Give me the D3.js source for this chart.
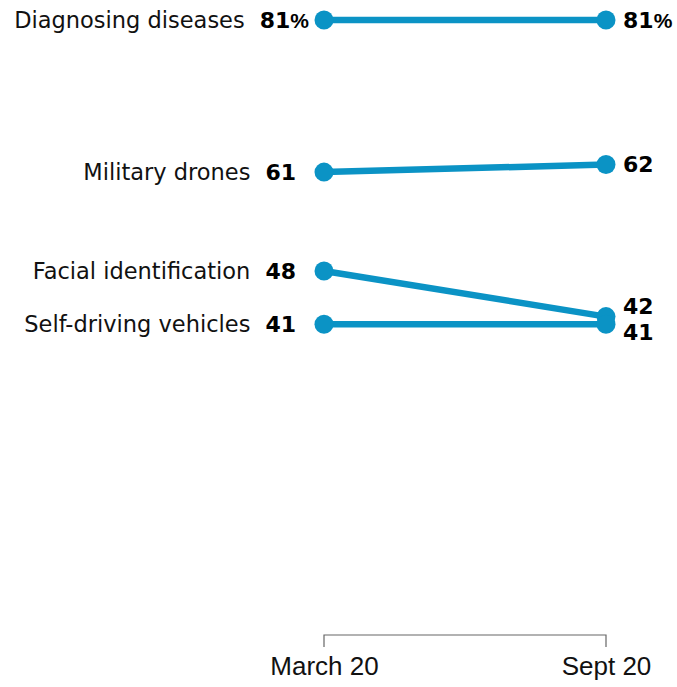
<!DOCTYPE html>
<html>
  <head>
    <meta charset="UTF-8" />
    <style>
      body { margin: 0; background: #fff; }
      .label { font-family: "DejaVu Sans", sans-serif; font-size: 22.5px; fill: #111; }
      .value { font-family: "DejaVu Sans", sans-serif; font-size: 22px; font-weight: bold; fill: #000; }
      .pct { font-family: "Liberation Sans", Arial, sans-serif; font-size: 21px; }
      .tick text { font-family: "Liberation Sans", Arial, sans-serif; font-size: 26px; fill: #111; }
    </style>
  </head>
  <body>
    <svg></svg>
    <script src="https://d3js.org/d3.v7.min.js"></script>
    <script>
      let width = 677,
        height = 687;

      // data
      let periods = ["March 20", "Sept 20"];
      let categories = ["Diagnosing diseases", "Military drones", "Facial identification", "Self-driving vehicles"];
      let march = [81, 61, 48, 41];
      let sept = [81, 62, 42, 41];

      let color = "#0b93c5";

      let svg = d3.select("svg").attr("width", width).attr("height", height);

      let x = d3.scalePoint().domain(periods).range([324, 606]);
      let y = d3.scaleLinear().domain([0, 81]).range([636, 20]);

      // nudge for right labels that overlap
      let rightNudge = [0, 0, -11, 8];

      let rows = categories.map((c, i) => ({
        name: c,
        a: march[i],
        b: sept[i],
        i: i,
      }));

      // axis bracket
      let axis = svg
        .append("g")
        .attr("transform", "translate(0,635)")
        .call(d3.axisBottom(x).tickSize(12).tickPadding(14));
      axis.select(".domain").attr("stroke", "#666").attr("stroke-width", 1.2)
        .attr("d", "M" + x(periods[0]) + ",12V0H" + x(periods[1]) + "V12");
      axis.selectAll(".tick line").remove();
      axis.selectAll(".tick text").attr("fill", "#111").attr("y", 40).attr("dy", 0);

      let g = svg.append("g");

      g.selectAll("line.slope")
        .data(rows)
        .join("line")
        .attr("class", "slope")
        .attr("x1", x(periods[0]))
        .attr("x2", x(periods[1]))
        .attr("y1", (d) => y(d.a))
        .attr("y2", (d) => y(d.b))
        .attr("stroke", color)
        .attr("stroke-width", 6.5);

      rows.forEach((d) => {
        g.append("circle").attr("cx", x(periods[0])).attr("cy", y(d.a)).attr("r", 9.5).attr("fill", color);
        g.append("circle").attr("cx", x(periods[1])).attr("cy", y(d.b)).attr("r", 9.5).attr("fill", color);
      });

      // left values + labels
      rows.forEach((d) => {
        let pct = d.i === 0;
        let vt = svg
          .append("text")
          .attr("class", "value")
          .attr("text-anchor", "end")
          .attr("x", x(periods[0]) - (pct ? 15 : 28))
          .attr("y", y(d.a))
          .attr("dy", "0.36em");
        vt.append("tspan").text(d.a);
        if (pct) vt.append("tspan").attr("class", "pct").text("%");
        let vStart = vt.node().getBBox().x;
        svg
          .append("text")
          .attr("class", "label")
          .attr("text-anchor", "end")
          .attr("x", vStart - 15)
          .attr("y", y(d.a))
          .attr("dy", "0.36em")
          .text(d.name);

        let rt = svg
          .append("text")
          .attr("class", "value")
          .attr("x", x(periods[1]) + 17)
          .attr("y", y(d.b) + rightNudge[d.i])
          .attr("dy", "0.36em");
        rt.append("tspan").text(d.b);
        if (pct) rt.append("tspan").attr("class", "pct").text("%");
      });
    </script>
  </body>
</html>
